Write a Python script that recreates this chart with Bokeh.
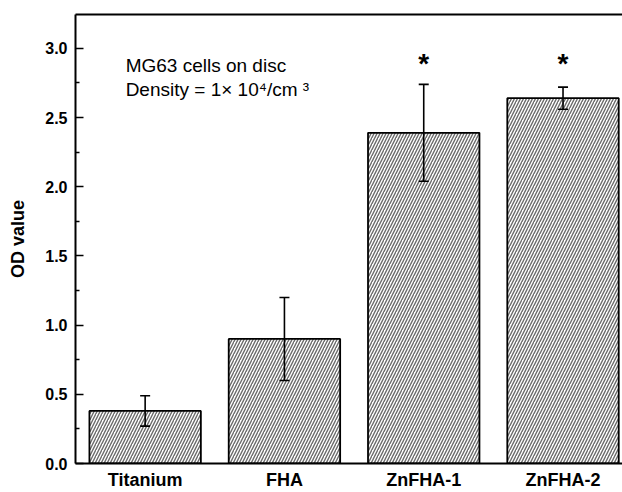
from bokeh.plotting import figure
from bokeh.models import (ColumnDataSource, Whisker, TeeHead, FixedTicker,
                          PrintfTickFormatter, LinearAxis)
from bokeh.core.properties import value
from bokeh.embed import file_html
from bokeh.resources import INLINE

# ---- data ----
categories = ["Titanium", "FHA", "ZnFHA-1", "ZnFHA-2"]
od_mean = [0.38, 0.90, 2.39, 2.64]
od_err = [0.11, 0.30, 0.35, 0.08]
star_cats = ["ZnFHA-1", "ZnFHA-2"]
star_y = [2.89, 2.89]
y_ticks = [0.0, 0.5, 1.0, 1.5, 2.0, 2.5, 3.0]
notes = ["MG63 cells on disc", "Density = 1\u00d7 10\u2074/cm \u00b3"]
note_y = [2.88, 2.70]

FONT = "Liberation Sans"

xpos = list(range(len(categories)))
src = ColumnDataSource(dict(
    x=xpos,
    top=od_mean,
    upper=[m + e for m, e in zip(od_mean, od_err)],
    lower=[m - e for m, e in zip(od_mean, od_err)],
))

p = figure(width=622, height=492, x_range=(-0.5, 3.427), y_range=(0, 3.245),
           output_backend="svg", toolbar_location=None,
           min_border_left=75, min_border_right=0, min_border_top=14, min_border_bottom=28)
p.background_fill_color = "white"
p.border_fill_color = "white"
p.outline_line_color = None
p.xgrid.visible = False
p.ygrid.visible = False

# x axis (below)
xa = p.below[0]
xa.ticker = FixedTicker(ticks=xpos)
xa.major_label_overrides = {i: c for i, c in zip(xpos, categories)}
xa.major_tick_in = 0
xa.major_tick_out = 0
xa.minor_tick_line_color = None
xa.axis_line_width = 2
xa.major_label_text_font = FONT
xa.major_label_text_font_style = "bold"
xa.major_label_text_font_size = "18px"
xa.major_label_text_color = "black"
xa.major_label_standoff = 6

# top frame line only (the right side is cut off in the reference)
top_axis = LinearAxis(ticker=FixedTicker(ticks=[]), axis_line_width=2,
                      major_tick_line_color=None, minor_tick_line_color=None)
p.add_layout(top_axis, "above")

p.vbar(x="x", top="top", width=0.8, source=src, fill_color="white",
       line_color="black", line_width=1.8,
       hatch_pattern="/", hatch_color="#6a6a6a", hatch_scale=6, hatch_weight=1.4)

w = Whisker(base="x", upper="upper", lower="lower", source=src, level="annotation",
            line_color="black", line_width=1.6,
            upper_head=TeeHead(size=10, line_width=1.6, line_color="black"),
            lower_head=TeeHead(size=10, line_width=1.6, line_color="black"))
p.add_layout(w)

p.text(x=[categories.index(c) for c in star_cats], y=star_y, text=["*"] * len(star_cats),
       text_font=value(FONT), text_font_style="bold", text_font_size="28px",
       text_align="center", text_baseline="alphabetic", text_color="black")

p.text(x=[-0.14] * len(notes), y=note_y, text=notes,
       text_font=value(FONT), text_font_size="19px",
       text_align="left", text_baseline="alphabetic", text_color="black")

# y axis
ya = p.left[0]
ya.ticker = FixedTicker(ticks=y_ticks, minor_ticks=[t + 0.25 for t in y_ticks])
ya.formatter = PrintfTickFormatter(format="%.1f")
ya.major_tick_in = 8
ya.major_tick_out = 0
ya.minor_tick_in = 4
ya.minor_tick_out = 0
ya.major_tick_line_width = 1.5
ya.minor_tick_line_width = 1.5
ya.axis_line_width = 2
ya.major_label_text_font = FONT
ya.major_label_text_font_style = "bold"
ya.major_label_text_font_size = "16px"
ya.major_label_text_color = "black"
ya.major_label_standoff = 8
ya.axis_label = "OD value"
ya.axis_label_text_font = FONT
ya.axis_label_text_font_style = "bold"
ya.axis_label_text_font_size = "18px"
ya.axis_label_text_color = "black"
ya.axis_label_standoff = 14

open("out.html", "w").write(file_html(p, INLINE))
